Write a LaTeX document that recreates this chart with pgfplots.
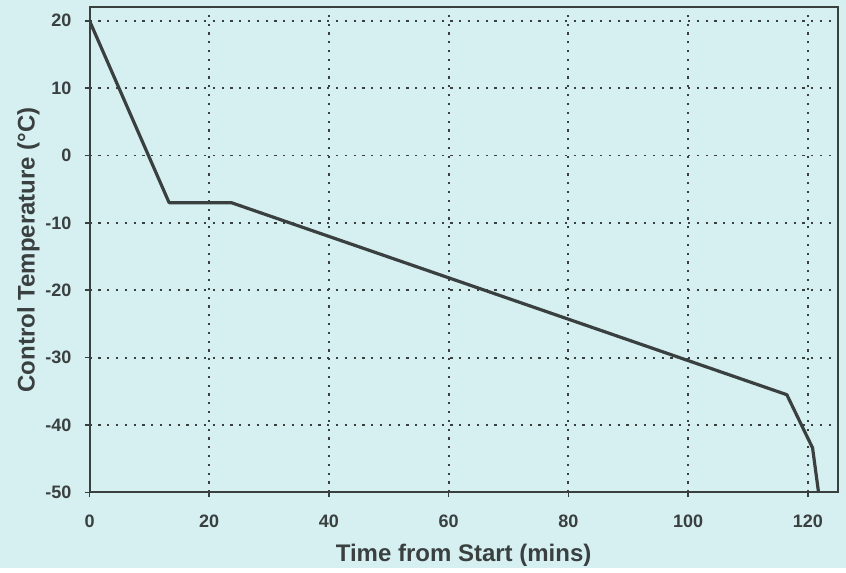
\documentclass[border=0pt]{standalone}
\usepackage{pgfplots}
\pgfplotsset{compat=1.18}
\usepackage{fontspec}
\setmainfont{Liberation Sans}
\usetikzlibrary{backgrounds,calc}
\definecolor{bg}{HTML}{D6F0F2}
\definecolor{ink}{HTML}{3A4040}
\begin{document}
\begin{tikzpicture}
\begin{axis}[
  name=ax,
  scale only axis,
  width=374pt, height=242.5pt,
  xmin=0, xmax=125, ymin=-50, ymax=22,
  xtick={0,20,40,60,80,100,120},
  ytick={-50,-40,-30,-20,-10,0,10,20},
  axis line style={ink, line width=1pt},
  tick align=outside,
  major tick length=2.5pt,
  tick style={ink, line width=0.8pt},
  xtick pos=bottom, ytick pos=left,
  grid=major,
  major grid style={ink, line width=0.9pt, dash pattern=on 1.1pt off 3.3pt},
  /pgf/number format/assume math mode=true,
  ticklabel style={font=\fontsize{9}{10}\selectfont\bfseries, text=ink},
  xticklabel style={yshift=-5pt},
  yticklabel style={xshift=-3pt},
  label style={font=\fontsize{12}{14}\selectfont\bfseries, text=ink},
  xlabel={Time from Start (mins)},
  ylabel={Control Temperature (°C)},
  xlabel style={yshift=-1.5pt},
  ylabel style={yshift=-4pt},
]
\addplot[ink, line width=1.6pt, line join=round] coordinates {
 (0,20) (13.3,-7) (23.7,-7) (116.5,-35.5) (120.8,-43.4) (121.8,-50)
};
\end{axis}
\begin{scope}[on background layer]
\fill[bg] ($(ax.south west)+(-44.75pt,-38pt)$) rectangle ($(ax.north east)+(4.15pt,3.65pt)$);
\end{scope}
\end{tikzpicture}
\end{document}
